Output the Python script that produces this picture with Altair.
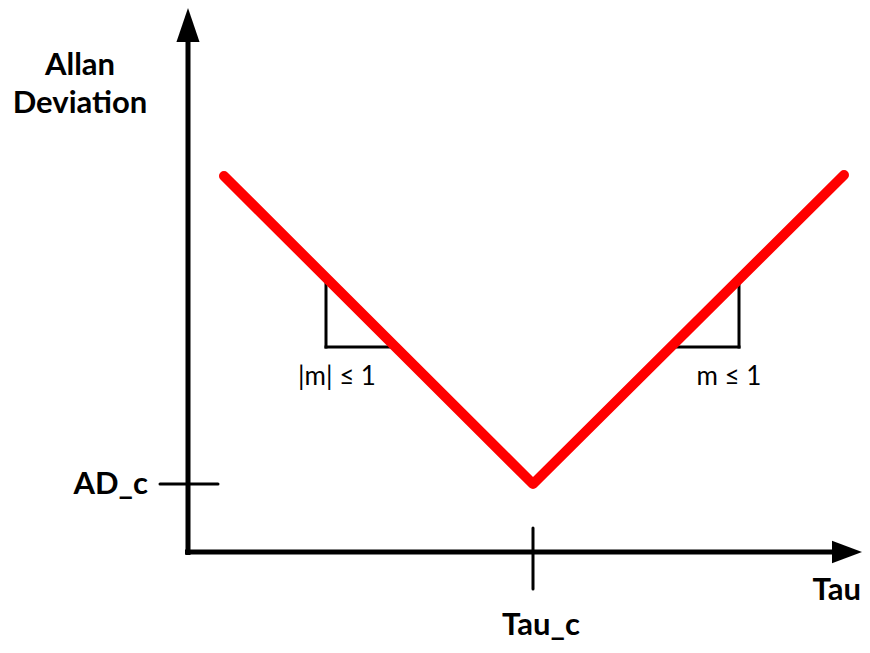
import altair as alt
import pandas as pd

# Schematic units: 1 unit on each axis; origin at the axes' corner
curve_tau = [3.6, 34.5, 65.6]
curve_ad = [37.6, 6.8, 37.7]

seg_name = ["y_axis", "x_axis", "adc_tick", "tauc_tick",
            "left_v", "left_h", "right_v", "right_h"]
seg_x1 = [0.0, -0.3, -2.8, 34.5, 13.8, 13.8, 55.1, 48.2]
seg_y1 = [-0.3, 0.0, 6.8, 2.4, 27.4, 20.5, 27.4, 20.5]
seg_x2 = [0.0, 64.8, 3.0, 34.5, 13.8, 20.8, 55.1, 55.1]
seg_y2 = [51.6, 0.0, 6.8, -3.7, 20.5, 20.5, 20.5, 20.5]
seg_kind = ["axis", "axis", "tick", "tick", "slope", "slope", "slope", "slope"]

arrow_x = [0.0, 65.9]
arrow_y = [52.7, 0.0]
arrow_dir = ["up", "right"]

bold_labels = ["Allan", "Deviation", "AD_c", "Tau_c", "Tau"]
bold_x = [-10.8, -10.8, -4.0, 35.3, 67.3]
bold_y = [48.6, 44.8, 6.7, -8.3, -3.9]
bold_anchor = ["center", "center", "right", "bottom", "right"]

slope_labels = ["|m| \u2264 1", "m \u2264 1"]
slope_x = [14.9, 54.1]
slope_y = [17.5, 17.5]

X_DOMAIN = [-18.0, 67.4]
Y_DOMAIN = [-9.3, 54.4]
FONT = "Lato"
BOLD_SIZE = 31

def X(field):
    return alt.X(field, type="quantitative", scale=alt.Scale(domain=X_DOMAIN, nice=False, zero=False), axis=None)

def Y(field):
    return alt.Y(field, type="quantitative", scale=alt.Scale(domain=Y_DOMAIN, nice=False, zero=False), axis=None)

curve_df = pd.DataFrame({"tau": curve_tau, "ad": curve_ad, "order": [0, 1, 2]})
seg_df = pd.DataFrame({"name": seg_name, "x1": seg_x1, "y1": seg_y1,
                       "x2": seg_x2, "y2": seg_y2, "kind": seg_kind})
arrow_df = pd.DataFrame({"x": arrow_x, "y": arrow_y, "dirn": arrow_dir})
bold_df = pd.DataFrame({"label": bold_labels, "x": bold_x, "y": bold_y, "anchor": bold_anchor})
slope_df = pd.DataFrame({"label": slope_labels, "x": slope_x, "y": slope_y})

curve = alt.Chart(curve_df).mark_line(
    color="#ff0000", strokeWidth=10, strokeCap="round", strokeJoin="round"
).encode(x=X("tau"), y=Y("ad"), order="order:Q")

axes = alt.Chart(seg_df[seg_df["kind"] == "axis"]).mark_rule(
    color="black", strokeWidth=5, strokeCap="butt"
).encode(x=X("x1"), y=Y("y1"), x2="x2:Q", y2="y2:Q")

ticks = alt.Chart(seg_df[seg_df["kind"] == "tick"]).mark_rule(
    color="black", strokeWidth=3, strokeCap="round"
).encode(x=X("x1"), y=Y("y1"), x2="x2:Q", y2="y2:Q")

slopes = alt.Chart(seg_df[seg_df["kind"] == "slope"]).mark_rule(
    color="black", strokeWidth=3, strokeCap="square"
).encode(x=X("x1"), y=Y("y1"), x2="x2:Q", y2="y2:Q")

arrow_up = alt.Chart(arrow_df[arrow_df["dirn"] == "up"]).mark_point(
    filled=True, color="black", opacity=1, strokeWidth=0,
    shape="M0,-1L0.68,1L-0.68,1Z", size=1156
).encode(x=X("x"), y=Y("y"))

arrow_right = alt.Chart(arrow_df[arrow_df["dirn"] == "right"]).mark_point(
    filled=True, color="black", opacity=1, strokeWidth=0,
    shape="M1,0L-1,-0.75L-1,0.75Z", size=900
).encode(x=X("x"), y=Y("y"))

bold_center = alt.Chart(bold_df[bold_df["anchor"] == "center"]).mark_text(
    font=FONT, fontWeight="bold", fontSize=BOLD_SIZE, color="black",
    align="center", baseline="middle"
).encode(x=X("x"), y=Y("y"), text="label:N")

bold_bottom = alt.Chart(bold_df[bold_df["anchor"] == "bottom"]).mark_text(
    font=FONT, fontWeight="bold", fontSize=BOLD_SIZE, color="black",
    align="center", baseline="alphabetic"
).encode(x=X("x"), y=Y("y"), text="label:N")

bold_right = alt.Chart(bold_df[bold_df["anchor"] == "right"]).mark_text(
    font=FONT, fontWeight="bold", fontSize=BOLD_SIZE, color="black",
    align="right", baseline="middle"
).encode(x=X("x"), y=Y("y"), text="label:N")

slope_text = alt.Chart(slope_df).mark_text(
    font=FONT, fontSize=26, color="black", align="center", baseline="middle"
).encode(x=X("x"), y=Y("y"), text="label:N")

chart = alt.layer(
    axes, ticks, slopes, curve, arrow_up, arrow_right,
    bold_center, bold_bottom, bold_right, slope_text
).properties(
    width=854, height=637, padding=0,
    autosize=alt.AutoSizeParams(type="none")
).configure_view(stroke=None)

chart.save("out.html", embed_options={"renderer": "svg", "actions": False})
